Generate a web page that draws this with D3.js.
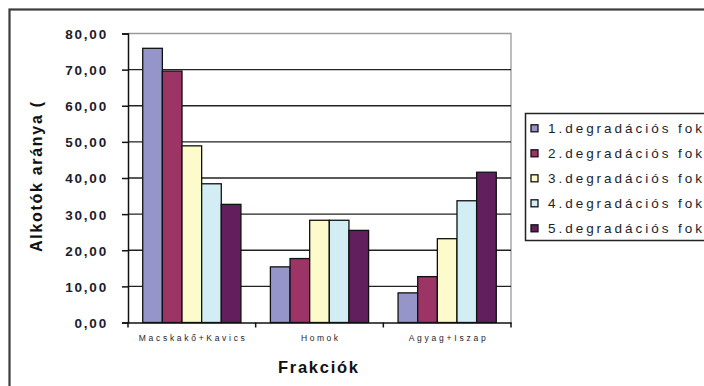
<!DOCTYPE html>
<html>
<head>
<meta charset="utf-8">
<script src="https://cdn.jsdelivr.net/npm/d3@7"></script>
<style>
  html, body { margin: 0; padding: 0; background: #fff; }
  svg { display: block; }
  text { font-family: "Liberation Sans", Arial, sans-serif; }
</style>
</head>
<body>
<svg id="chart" width="704" height="386"></svg>
<script>
// Fractions (categories) and the share of components for each degradation stage
const categories = ["Macskakő+Kavics", "Homok", "Agyag+Iszap"];
const seriesNames = [
  "1.degradációs fok",
  "2.degradációs fok",
  "3.degradációs fok",
  "4.degradációs fok",
  "5.degradációs fok"
];
const stage1 = [75.9, 15.4, 8.2];
const stage2 = [69.6, 17.7, 12.7];
const stage3 = [48.9, 28.3, 23.2];
const stage4 = [38.4, 28.3, 33.7];
const stage5 = [32.7, 25.5, 41.6];
const seriesValues = [stage1, stage2, stage3, stage4, stage5];
const seriesColors = ["#9595c9", "#9c3466", "#fdfacc", "#d2edf3", "#611f5e"];
const yTicks = [0, 10, 20, 30, 40, 50, 60, 70, 80];

const svg = d3.select("#chart");

// Outer chart frame
svg.append("rect")
  .attr("x", 9.5).attr("y", 9.5)
  .attr("width", 720).attr("height", 400)
  .attr("fill", "none").attr("stroke", "#3c3c3c").attr("stroke-width", 2.2);

const plot = { left: 128, right: 511, top: 33.5, bottom: 322.5 };

const x0 = d3.scaleBand()
  .domain(categories)
  .range([plot.left, plot.right])
  .paddingInner(0).paddingOuter(0);

// Excel-style gap width of 150%: 5 bars + 1.5 bar widths of gap per group
const barW = x0.bandwidth() / 6.5;

const y = d3.scaleLinear().domain([0, 80]).range([plot.bottom, plot.top]);

// Plot area border (top & right, grey)
svg.append("path")
  .attr("d", `M${plot.left},${plot.top}H${plot.right}V${plot.bottom}`)
  .attr("fill", "none").attr("stroke", "#9a9a9a").attr("stroke-width", 1.3);

// Gridlines
svg.append("g")
  .selectAll("line")
  .data(yTicks.filter(t => t > 0 && t < 80))
  .join("line")
  .attr("x1", plot.left).attr("x2", plot.right)
  .attr("y1", d => y(d)).attr("y2", d => y(d))
  .attr("stroke", "#222").attr("stroke-width", 1.3);

// Bars
const groups = svg.append("g")
  .selectAll("g")
  .data(seriesValues)
  .join("g")
  .attr("fill", (d, i) => seriesColors[i]);

groups.selectAll("rect")
  .data((vals, si) => vals.map((v, ci) => ({ v, ci, si })))
  .join("rect")
  .attr("x", d => x0(categories[d.ci]) + barW * 0.75 + d.si * barW)
  .attr("y", d => y(d.v))
  .attr("width", barW)
  .attr("height", d => y(0) - y(d.v))
  .attr("stroke", "#111").attr("stroke-width", 1.3);

// Y axis
const yAxis = d3.axisLeft(y)
  .tickValues(yTicks)
  .tickSize(6)
  .tickPadding(14)
  .tickFormat(d => d3.format(".2f")(d).replace(".", ","));

const gy = svg.append("g")
  .attr("transform", `translate(${plot.left},0)`)
  .call(yAxis);
gy.select(".domain").attr("stroke", "#111").attr("stroke-width", 1.5);
gy.selectAll(".tick line").attr("stroke", "#111").attr("stroke-width", 1.5);
gy.selectAll(".tick text")
  .attr("fill", "#1c1c2c")
  .attr("font-size", 13.5)
  .attr("font-weight", "bold")
  .attr("letter-spacing", 1.8)
  .attr("dy", "0.36em");

// X axis
const xAxis = d3.axisBottom(x0).tickSize(0).tickFormat("");
const gx = svg.append("g")
  .attr("transform", `translate(0,${plot.bottom})`)
  .call(xAxis);
gx.select(".domain").attr("stroke", "#111").attr("stroke-width", 1.5);
gx.selectAll(".tick").remove();

// Category boundary ticks
svg.append("g")
  .selectAll("line")
  .data([...categories.map(c => x0(c)), plot.right])
  .join("line")
  .attr("x1", d => d).attr("x2", d => d)
  .attr("y1", plot.bottom).attr("y2", plot.bottom + 5)
  .attr("stroke", "#111").attr("stroke-width", 1.5);

// Category labels
const catWidths = [106, 37, 77];
svg.append("g")
  .selectAll("text")
  .data(categories)
  .join("text")
  .attr("x", d => x0(d) + x0.bandwidth() / 2)
  .attr("y", 341)
  .attr("text-anchor", "middle")
  .attr("font-size", 8.5)
  .attr("fill", "#1c1c2c")
  .attr("textLength", (d, i) => catWidths[i])
  .attr("lengthAdjust", "spacing")
  .text(d => d);

// Axis titles
svg.append("text")
  .attr("x", 318).attr("y", 373)
  .attr("text-anchor", "middle")
  .attr("font-size", 16.5).attr("font-weight", "bold")
  .attr("fill", "#111")
  .attr("textLength", 80).attr("lengthAdjust", "spacing")
  .text("Frakciók");

svg.append("text")
  .attr("transform", "translate(42,177) rotate(-90)")
  .attr("text-anchor", "middle")
  .attr("font-size", 16).attr("font-weight", "bold")
  .attr("fill", "#111")
  .attr("textLength", 150).attr("lengthAdjust", "spacing")
  .text("Alkotók aránya (");

// Legend
const legend = svg.append("g");
legend.append("rect")
  .attr("x", 525.5).attr("y", 113.5)
  .attr("width", 200).attr("height", 127)
  .attr("fill", "#fff").attr("stroke", "#222").attr("stroke-width", 1.5);

const items = legend.selectAll("g.item")
  .data(seriesNames)
  .join("g")
  .attr("class", "item")
  .attr("transform", (d, i) => `translate(0,${128.3 + i * 25})`);

items.append("rect")
  .attr("x", 531).attr("y", -3.5)
  .attr("width", 7).attr("height", 7)
  .attr("fill", (d, i) => seriesColors[i])
  .attr("stroke", "#111").attr("stroke-width", 1.3);

items.append("text")
  .attr("x", 548).attr("y", 0)
  .attr("dy", "0.36em")
  .attr("font-size", 13.5)
  .attr("fill", "#1c1c2c")
  .attr("textLength", 154).attr("lengthAdjust", "spacing")
  .text(d => d);
</script>
</body>
</html>
